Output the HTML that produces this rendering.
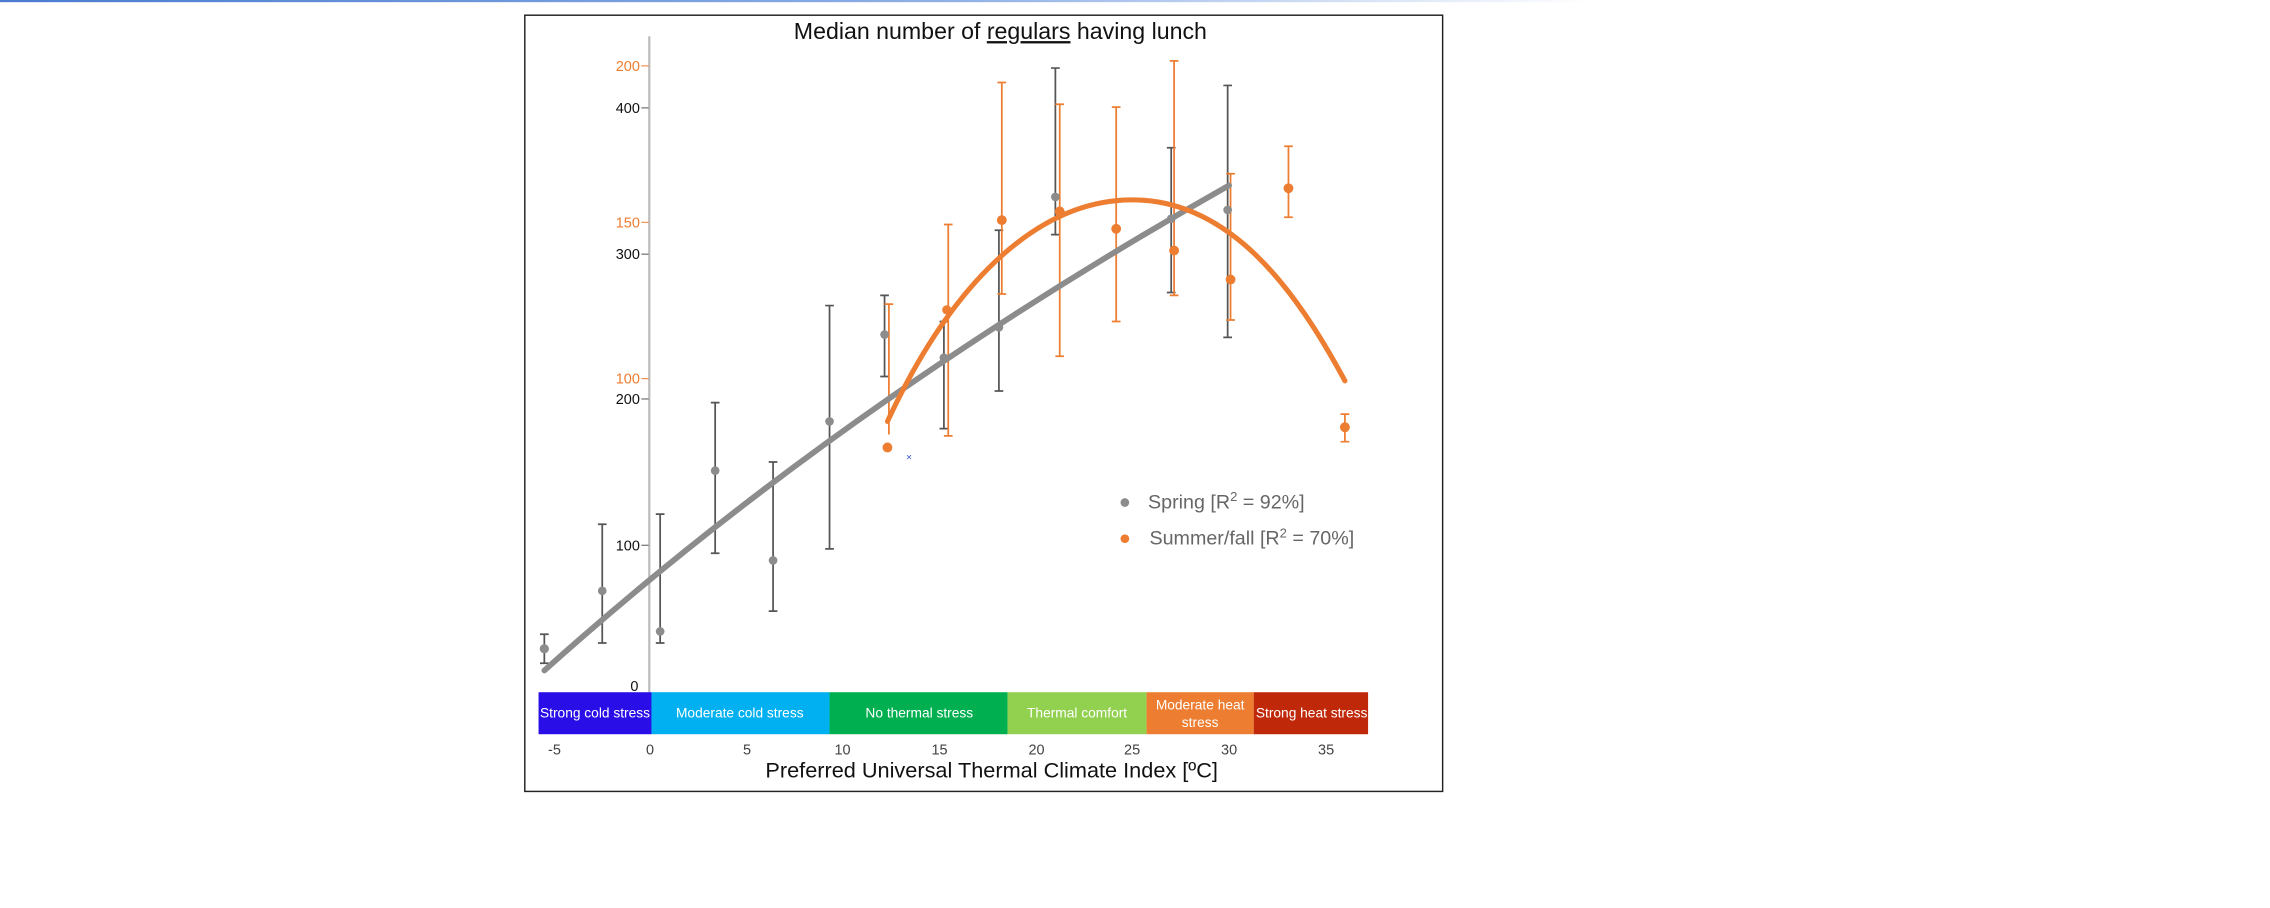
<!DOCTYPE html>
<html><head><meta charset="utf-8"><style>html,body{margin:0;padding:0;background:#fff}svg{display:block}</style></head>
<body>
<svg width="2270" height="908" viewBox="0 0 1568 627" preserveAspectRatio="none" xmlns="http://www.w3.org/2000/svg" font-family="Liberation Sans, sans-serif">
<defs><linearGradient id="tb" x1="0" x2="1"><stop offset="0" stop-color="#4a7bd0"/><stop offset="0.6" stop-color="#8fb0e6"/><stop offset="1" stop-color="#fff"/></linearGradient></defs>
<rect x="0" y="0" width="1100" height="1.5" fill="url(#tb)"/>
<rect x="362.5" y="10.5" width="634" height="536" fill="#fff" stroke="#222" stroke-width="1"/>
<text x="691" y="27" text-anchor="middle" font-size="16" fill="#111">Median number of <tspan text-decoration="underline">regulars</tspan> having lunch</text>
<line x1="448.5" y1="25" x2="448.5" y2="478" stroke="#bbb" stroke-width="1.5"/>
<g font-size="10" text-anchor="end">
<g fill="#ed7d31" stroke="#ed7d31" stroke-width="0.7">
<text x="442" y="49" stroke="none">200</text><line x1="443" y1="45.5" x2="448" y2="45.5"/>
<text x="442" y="157" stroke="none">150</text><line x1="443" y1="153.5" x2="448" y2="153.5"/>
<text x="442" y="265" stroke="none">100</text><line x1="443" y1="261.5" x2="448" y2="261.5"/>
</g>
<g fill="#111" stroke="#555" stroke-width="0.7">
<text x="442" y="78" stroke="none">400</text><line x1="443" y1="74.5" x2="448" y2="74.5"/>
<text x="442" y="179" stroke="none">300</text><line x1="443" y1="175.5" x2="448" y2="175.5"/>
<text x="442" y="279" stroke="none">200</text><line x1="443" y1="275.5" x2="448" y2="275.5"/>
<text x="442" y="380" stroke="none">100</text><line x1="443" y1="376.5" x2="448" y2="376.5"/>
<text x="441" y="477" stroke="none">0</text>
</g></g>
<g font-size="9.5" fill="#fff" text-anchor="middle">
<rect x="372" y="478" width="78" height="29" fill="#2a0ee8"/><text x="411" y="495.5">Strong cold stress</text>
<rect x="450" y="478" width="123" height="29" fill="#00b0f0"/><text x="511" y="495.5">Moderate cold stress</text>
<rect x="573" y="478" width="123" height="29" fill="#00b050"/><text x="635" y="495.5">No thermal stress</text>
<rect x="696" y="478" width="96" height="29" fill="#92d050"/><text x="744" y="495.5">Thermal comfort</text>
<rect x="792" y="478" width="74" height="29" fill="#ed7d31"/><text x="829" y="490">Moderate heat</text><text x="829" y="502">stress</text>
<rect x="866" y="478" width="79" height="29" fill="#c0280a"/><text x="906" y="495.5">Strong heat stress</text>
</g>
<g font-size="10" fill="#444" text-anchor="middle">
<text x="383" y="521">-5</text><text x="449" y="521">0</text><text x="516" y="521">5</text><text x="582" y="521">10</text><text x="649" y="521">15</text><text x="716" y="521">20</text><text x="782" y="521">25</text><text x="849" y="521">30</text><text x="916" y="521">35</text>
</g>
<text x="685" y="537" text-anchor="middle" font-size="15" fill="#111">Preferred Universal Thermal Climate Index [ºC]</text>
<g stroke="#555" stroke-width="1.2" fill="none">
<path d="M376 438V458M373 438h6M373 458h6"/>
<path d="M416 362V444M413 362h6M413 444h6"/>
<path d="M456 355V444M453 355h6M453 444h6"/>
<path d="M494 278V382M491 278h6M491 382h6"/>
<path d="M534 319V422M531 319h6M531 422h6"/>
<path d="M573 211V379M570 211h6M570 379h6"/>
<path d="M611 204V260M608 204h6M608 260h6"/>
<path d="M652 222V296M649 222h6M649 296h6"/>
<path d="M690 159V270M687 159h6M687 270h6"/>
<path d="M729 47V162M726 47h6M726 162h6"/>
<path d="M809 102V202M806 102h6M806 202h6"/>
<path d="M848 59V233M845 59h6M845 233h6"/>
</g>
<g stroke="#ed7d31" stroke-width="1.2" fill="none">
<path d="M614 210V300M611 210h6"/>
<path d="M655 155V301M652 155h6M652 301h6"/>
<path d="M692 57V203M689 57h6M689 203h6"/>
<path d="M732 72V246M729 72h6M729 246h6"/>
<path d="M771 74V222M768 74h6M768 222h6"/>
<path d="M811 42V204M808 42h6M808 204h6"/>
<path d="M850 120V221M847 120h6M847 221h6"/>
<path d="M890 101V150M887 101h6M887 150h6"/>
<path d="M929 286V305M926 286h6M926 305h6"/>
</g>
<path fill="none" stroke="#8c8c8c" stroke-width="4" stroke-linecap="round" d="M376 463 Q 580 280 849 128"/>
<path fill="none" stroke="#ed7d31" stroke-width="3.5" stroke-linecap="round" d="M613 291 C 660 190, 720 138, 782 138 C 850 138, 895 200, 929 263"/>
<g fill="#8c8c8c">
<circle cx="376" cy="448" r="3.2"/><circle cx="416" cy="408" r="3"/><circle cx="456" cy="436" r="3"/><circle cx="494" cy="325" r="3"/><circle cx="534" cy="387" r="3"/><circle cx="573" cy="291" r="3"/><circle cx="611" cy="231" r="3"/><circle cx="652" cy="247" r="3"/><circle cx="690" cy="226" r="3"/><circle cx="729" cy="136" r="3"/><circle cx="809" cy="151" r="3"/><circle cx="848" cy="145" r="3"/>
</g>
<g fill="#ed7d31">
<circle cx="613" cy="309" r="3.4"/><circle cx="654" cy="214" r="3.2"/><circle cx="692" cy="152" r="3.4"/><circle cx="732" cy="146" r="3.4"/><circle cx="771" cy="158" r="3.4"/><circle cx="811" cy="173" r="3.4"/><circle cx="850" cy="193" r="3.4"/><circle cx="890" cy="130" r="3.4"/><circle cx="929" cy="295" r="3.4"/>
</g>
<text x="628" y="318" font-size="7" fill="#3355cc" text-anchor="middle">×</text>
<circle cx="777" cy="347" r="3" fill="#8c8c8c"/>
<text x="793" y="351" font-size="13.6" fill="#666">Spring [R<tspan font-size="9" dy="-5">2</tspan><tspan dy="5"> = 92%]</tspan></text>
<circle cx="777" cy="372" r="3" fill="#ed7d31"/>
<text x="794" y="376" font-size="13.6" fill="#666">Summer/fall [R<tspan font-size="9" dy="-5">2</tspan><tspan dy="5"> = 70%]</tspan></text>
</svg>
</body></html>
